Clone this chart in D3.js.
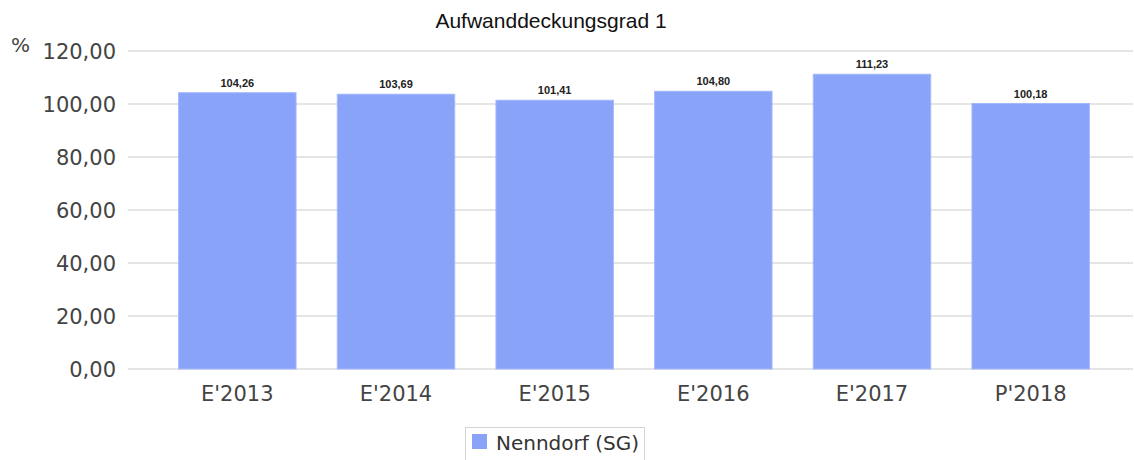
<!DOCTYPE html>
<html>
<head>
<meta charset="utf-8">
<script src="https://cdn.jsdelivr.net/npm/d3@7"></script>
<style>
  html, body { margin: 0; padding: 0; background: #fff; }
</style>
</head>
<body>
<div id="chart"></div>
<script>
// Data
const categories = ["E'2013", "E'2014", "E'2015", "E'2016", "E'2017", "P'2018"];
const values = [104.26, 103.69, 101.41, 104.80, 111.23, 100.18];
const yTicks = [0, 20, 40, 60, 80, 100, 120];
const seriesName = "Nenndorf (SG)";
const title = "Aufwanddeckungsgrad 1";

const width = 1134;
const height = 460;
const barColor = "#89a3f9";

const fmt = (v) => v.toFixed(2).replace(".", ",");

const svg = d3.select("#chart")
  .append("svg")
  .attr("width", width)
  .attr("height", height);

const x = d3.scaleBand()
  .domain(categories)
  .range([158, 1110])
  .paddingInner(0.26)
  .paddingOuter(0.13);

const y = d3.scaleLinear()
  .domain([0, 120])
  .range([369, 51]);

// Grid lines
svg.append("g")
  .selectAll("line")
  .data(yTicks)
  .join("line")
    .attr("x1", 128)
    .attr("x2", 1133)
    .attr("y1", (d) => y(d))
    .attr("y2", (d) => y(d))
    .attr("stroke", "#dcdcdc")
    .attr("stroke-width", 1.5);

// Y tick labels
svg.append("g")
  .style("font", "21px 'DejaVu Sans', sans-serif")
  .attr("fill", "#444")
  .attr("text-anchor", "end")
  .selectAll("text")
  .data(yTicks)
  .join("text")
    .attr("x", 116)
    .attr("y", (d) => y(d) + 8)
    .text((d) => fmt(d));

// Unit label
svg.append("text")
  .attr("x", 11)
  .attr("y", 52)
  .style("font", "20px 'DejaVu Sans', sans-serif")
  .attr("fill", "#444")
  .text("%");

// Title
svg.append("text")
  .attr("x", 551)
  .attr("y", 28)
  .attr("text-anchor", "middle")
  .style("font", "21px 'Liberation Sans', Arial, sans-serif")
  .attr("fill", "#111")
  .text(title);

// Bars
svg.append("g")
  .selectAll("rect")
  .data(values)
  .join("rect")
    .attr("x", (d, i) => x(categories[i]))
    .attr("width", x.bandwidth())
    .attr("y", (d) => y(d))
    .attr("height", (d) => y(0) - y(d))
    .attr("fill", barColor)
    .attr("stroke", "#a3b7fb")
    .attr("stroke-width", 1);

// Value labels
svg.append("g")
  .style("font", "bold 11px 'Liberation Sans', Arial, sans-serif")
  .attr("fill", "#222")
  .attr("text-anchor", "middle")
  .selectAll("text")
  .data(values)
  .join("text")
    .attr("x", (d, i) => x(categories[i]) + x.bandwidth() / 2)
    .attr("y", (d) => y(d) - 6)
    .text((d) => fmt(d));

// X axis labels
svg.append("g")
  .style("font", "21px 'DejaVu Sans', sans-serif")
  .attr("fill", "#444")
  .attr("text-anchor", "middle")
  .selectAll("text")
  .data(categories)
  .join("text")
    .attr("x", (d) => x(d) + x.bandwidth() / 2)
    .attr("y", 401)
    .text((d) => d);

// Legend
const legend = svg.append("g");
legend.append("rect")
  .attr("x", 465.5)
  .attr("y", 427.5)
  .attr("width", 179)
  .attr("height", 40)
  .attr("fill", "#fff")
  .attr("stroke", "#d4d4d4");
legend.append("rect")
  .attr("x", 472)
  .attr("y", 434)
  .attr("width", 15)
  .attr("height", 15)
  .attr("fill", barColor);
legend.append("text")
  .attr("x", 496)
  .attr("y", 450)
  .style("font", "20px 'DejaVu Sans', sans-serif")
  .attr("fill", "#333")
  .text(seriesName);
</script>
</body>
</html>
